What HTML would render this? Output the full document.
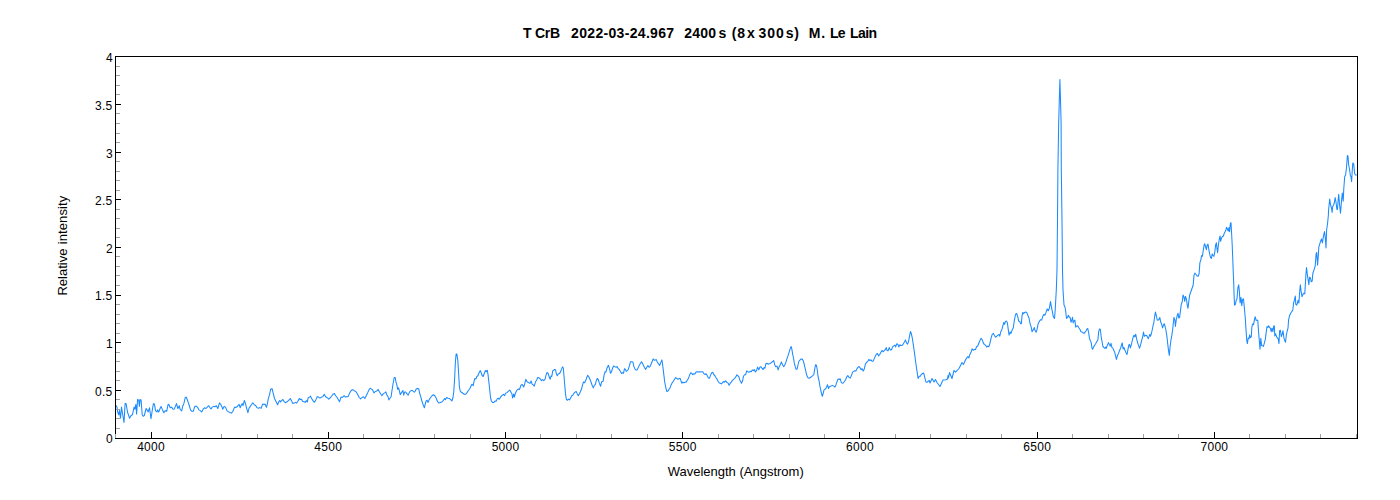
<!DOCTYPE html>
<html><head><meta charset="utf-8"><title>T CrB spectrum</title>
<style>
html,body{margin:0;padding:0;background:#fff;}
body{width:1400px;height:500px;overflow:hidden;font-family:"Liberation Sans",sans-serif;}
svg{display:block;}
text{white-space:pre;}
</style></head><body>
<svg width="1400" height="500" viewBox="0 0 1400 500">
<rect x="0" y="0" width="1400" height="500" fill="#fff"/>
<path d="M115.5 438.5H121.0M115.5 390.5H121.0M115.5 342.5H121.0M115.5 295.5H121.0M115.5 247.5H121.0M115.5 199.5H121.0M115.5 152.5H121.0M115.5 104.5H121.0M115.5 56.5H121.0M151.5 438.5V432.0M328.5 438.5V432.0M505.5 438.5V432.0M682.5 438.5V432.0M859.5 438.5V432.0M1037.5 438.5V432.0M1214.5 438.5V432.0" stroke="#000" stroke-width="1" fill="none" shape-rendering="crispEdges"/>
<polyline points="115.6,405.0 117.0,407.1 117.7,412.0 118.7,414.8 119.5,410.6 120.5,418.3 121.5,407.1 122.3,412.0 124.0,422.5 125.1,403.6 126.1,403.6 127.5,412.0 129.6,418.3 131.0,415.5 132.4,414.8 134.1,407.1 134.9,409.2 135.9,404.3 136.6,414.1 137.6,399.4 138.7,400.1 139.4,406.4 140.1,399.4 141.1,400.1 142.2,414.8 143.2,416.2 144.3,415.5 146.1,408.5 147.5,410.6 148.1,412.0 149.5,407.8 151.0,418.7 152.0,412.0 153.4,403.6 154.5,404.3 155.5,410.6 156.9,412.0 157.6,409.9 158.7,412.0 160.1,408.5 161.1,406.4 162.5,409.9 163.9,412.7 165.3,410.6 166.7,411.3 168.1,404.3 169.1,404.7 170.2,407.8 171.6,407.1 173.0,409.2 174.4,408.9 176.5,403.6 177.9,408.5 179.3,405.7 180.0,409.2 181.7,411.0 182.8,405.7 183.5,405.0 185.3,397.3 186.3,397.3 187.7,400.8 189.1,405.0 190.5,409.9 191.9,411.3 193.3,411.3 194.7,406.4 196.1,406.1 197.5,407.1 198.9,409.9 200.3,410.6 201.7,412.0 203.1,409.2 204.5,407.8 205.9,408.5 207.3,407.1 208.7,405.7 210.1,407.8 211.1,408.9 212.2,407.1 213.6,406.4 215.0,406.7 216.4,405.7 217.8,408.5 219.5,402.9 220.6,404.3 222.0,407.1 222.7,409.2 224.1,406.4 225.5,407.1 226.9,410.6 228.3,411.7 229.7,412.4 231.5,413.1 232.9,411.3 234.6,407.1 236.0,407.5 237.4,406.4 239.1,404.3 240.2,407.8 241.3,405.0 242.3,403.6 243.0,405.7 244.4,400.5 245.5,403.6 246.5,407.8 247.9,412.7 248.9,408.5 250.0,406.9 251.4,404.8 252.8,402.7 254.2,404.8 255.6,405.5 257.0,407.6 258.4,408.3 259.8,407.6 261.2,408.3 262.6,404.1 264.0,404.5 265.1,404.1 266.5,407.3 267.5,403.4 268.2,399.2 269.6,394.3 270.7,389.1 272.1,388.7 273.1,392.9 274.5,398.5 275.9,401.3 277.6,404.8 278.7,402.0 279.7,400.6 280.5,402.0 281.5,400.6 282.9,399.5 284.3,401.7 285.3,402.7 286.7,402.0 288.5,400.6 290.3,398.5 291.6,400.9 292.7,403.4 294.1,403.1 295.5,402.4 296.5,403.1 297.9,401.3 299.3,398.5 300.4,399.5 301.5,399.2 302.5,401.3 303.9,401.7 305.3,402.4 306.3,400.6 307.4,402.0 308.1,397.8 309.5,397.1 310.5,396.1 311.6,398.5 313.0,400.6 314.4,402.3 315.8,399.9 317.2,396.7 318.6,397.1 320.0,398.1 321.4,397.1 322.8,396.7 324.2,394.3 325.6,396.7 327.0,397.5 328.7,399.2 330.5,397.5 331.9,395.7 333.3,393.9 334.4,393.6 335.7,395.7 337.1,397.5 338.5,399.9 339.6,401.7 341.0,397.1 342.4,397.5 344.1,395.7 345.5,397.1 346.6,396.7 348.0,396.7 349.4,393.6 350.8,391.1 352.2,389.7 353.6,390.1 355.0,391.1 356.4,392.2 357.8,394.7 359.2,397.5 360.6,398.9 362.0,397.5 363.4,396.7 364.8,398.5 366.2,395.7 367.6,392.9 369.0,389.7 370.1,388.3 371.5,389.1 372.5,389.7 373.9,392.9 375.3,391.5 376.7,391.1 378.1,389.4 379.5,391.9 380.9,394.3 381.9,395.7 383.3,393.6 384.7,392.9 385.8,391.9 386.9,395.0 387.9,396.4 388.9,399.9 390.0,398.2 391.1,396.8 392.1,389.8 393.1,383.5 394.2,377.5 395.2,377.5 395.9,381.7 397.0,385.6 397.7,389.5 398.4,387.7 399.1,389.5 400.2,394.7 401.5,392.6 402.9,390.5 403.7,395.1 404.7,391.9 405.7,391.9 406.8,393.7 408.2,395.1 409.6,391.9 411.0,390.5 412.4,390.5 413.8,391.9 414.9,391.9 415.9,389.5 417.3,388.4 418.7,388.7 419.7,393.3 420.8,396.8 421.9,401.0 423.3,405.2 424.4,407.7 425.3,403.8 426.1,401.0 427.1,400.3 428.1,402.4 429.2,399.6 430.6,397.5 432.0,395.7 433.4,394.7 434.8,395.7 436.2,398.2 437.6,401.7 439.0,403.1 440.4,402.4 442.1,401.7 443.5,400.3 444.6,398.5 445.4,399.6 446.7,397.5 448.1,398.2 449.5,398.5 450.9,399.9 451.9,401.0 453.0,397.5 453.8,391.2 454.7,377.2 455.4,361.8 456.1,354.1 456.9,354.1 457.8,360.4 458.6,373.0 459.4,387.0 460.3,391.2 461.4,392.3 462.8,393.3 464.2,394.3 465.6,394.3 467.0,392.6 468.4,390.5 469.8,388.7 470.9,386.3 471.9,384.2 473.2,385.6 474.0,381.7 474.8,378.6 476.0,378.9 476.8,376.5 477.9,375.8 479.0,373.0 480.3,370.6 481.3,373.0 482.1,375.5 483.2,376.5 484.4,373.0 485.5,370.5 486.3,371.6 487.2,370.2 488.0,374.4 488.8,381.4 489.7,389.8 490.5,397.5 491.4,401.0 492.5,402.4 493.9,402.4 495.0,401.0 496.1,401.3 497.2,398.9 498.1,398.2 499.2,399.3 500.6,397.1 502.0,395.4 503.4,394.3 504.5,395.7 505.6,393.3 507.0,392.6 508.4,391.2 509.8,390.1 511.0,392.3 511.8,393.3 512.6,397.9 513.8,394.0 514.3,397.1 515.4,393.3 516.7,390.5 518.1,389.1 519.5,389.5 520.9,385.3 522.3,384.5 523.7,387.0 524.7,383.9 525.8,379.3 526.9,381.4 528.3,382.5 530.0,383.4 531.1,380.9 532.1,384.1 533.1,384.8 534.2,386.2 535.6,381.7 536.7,379.9 537.7,377.5 539.1,377.8 540.5,379.2 541.5,380.6 542.6,379.5 543.7,380.6 545.1,379.2 546.1,375.0 547.1,372.5 548.2,373.3 549.2,377.1 550.2,379.2 551.0,376.1 551.8,376.4 552.7,370.8 553.5,370.5 554.5,369.4 555.5,369.7 556.3,373.6 557.3,375.7 558.3,373.9 559.4,373.6 560.5,371.9 561.5,369.1 562.5,366.9 563.3,368.0 563.9,375.0 564.7,384.8 565.6,394.6 566.4,399.5 567.5,400.2 568.5,399.1 569.5,399.9 570.6,398.1 571.7,395.7 572.8,395.3 574.0,393.2 575.1,392.1 576.2,391.5 577.3,393.9 578.3,395.7 579.3,393.9 580.4,391.8 581.5,389.0 582.5,385.1 583.5,382.0 584.6,382.7 585.7,380.6 586.7,377.8 587.7,375.3 588.8,376.7 589.9,379.2 591.0,382.0 592.2,385.5 593.3,387.9 594.4,385.1 595.2,384.8 596.1,381.3 597.2,378.5 598.3,379.5 599.4,383.4 600.6,386.2 601.7,381.7 603.1,381.3 604.2,374.3 605.0,371.9 605.9,372.2 607.0,368.0 608.4,365.2 609.5,368.7 610.5,373.3 611.5,371.9 612.6,368.0 613.7,365.9 614.8,366.6 616.0,367.3 617.1,366.6 618.2,368.7 619.3,369.4 620.4,371.5 621.6,373.6 622.7,372.5 623.5,373.3 624.5,368.7 625.5,369.4 626.3,371.5 627.3,370.5 628.3,369.4 629.4,365.9 630.5,361.7 631.6,361.7 632.9,362.1 633.9,366.6 635.0,369.1 636.1,370.1 637.2,369.7 638.4,367.3 639.5,364.9 640.6,363.1 641.6,361.7 642.7,363.8 643.7,365.9 644.8,368.0 645.6,369.4 646.8,367.3 647.9,365.5 649.0,367.3 650.1,366.3 651.2,363.8 652.4,361.0 653.2,358.9 654.3,360.3 655.3,359.9 656.3,359.6 657.4,362.4 658.5,363.8 659.6,365.5 660.8,362.4 661.9,359.9 662.7,365.2 663.7,373.6 664.7,382.0 665.8,387.6 666.9,391.5 668.0,391.1 669.2,389.0 670.0,388.1 671.1,384.9 672.1,382.9 673.1,381.5 674.2,379.7 675.6,377.6 676.7,378.3 677.8,379.3 679.0,378.7 680.1,378.3 680.9,380.7 681.9,383.2 682.9,382.1 684.0,382.9 685.1,382.1 686.2,382.1 687.4,380.1 688.5,378.3 689.6,375.1 690.7,372.7 691.8,373.4 692.7,374.8 693.8,373.7 694.9,374.1 696.0,372.0 697.2,371.7 698.3,372.0 699.4,371.7 700.5,372.0 701.6,371.7 702.8,371.7 703.9,373.7 705.0,374.5 706.1,373.7 707.2,375.5 708.4,377.9 709.5,378.3 710.6,375.1 711.7,372.7 712.7,372.3 713.7,374.5 714.8,375.5 715.9,377.6 717.0,379.0 718.2,381.5 719.3,382.9 720.4,383.2 721.5,383.9 722.6,382.5 723.8,381.5 724.6,382.1 725.7,380.7 726.8,382.5 728.0,382.9 729.1,385.3 730.2,383.2 731.3,382.1 732.4,380.4 733.6,379.3 734.7,378.3 735.8,376.9 736.9,374.8 738.0,375.9 738.9,376.9 739.7,379.7 740.7,381.8 741.5,383.2 742.5,381.1 743.5,376.2 744.5,374.8 745.6,374.8 746.7,370.9 747.8,371.7 749.0,372.3 750.1,371.3 751.2,371.7 752.3,369.9 753.4,370.6 754.3,369.5 755.4,372.0 756.5,370.6 757.6,367.1 758.8,369.9 759.9,367.1 761.0,366.7 762.1,368.5 763.2,369.5 764.1,367.5 764.9,368.1 766.0,363.6 767.2,363.3 768.3,364.3 769.4,363.6 770.5,363.3 771.6,362.2 772.8,361.5 773.7,360.5 774.7,364.7 775.8,366.7 777.0,366.1 778.1,369.9 779.2,366.7 780.3,364.7 781.4,361.9 782.6,364.7 783.7,366.7 784.8,365.0 785.9,362.2 787.0,358.7 788.2,355.2 789.3,351.7 790.1,348.9 791.1,346.5 791.8,348.9 792.6,353.8 793.5,358.0 794.3,362.9 795.2,366.7 796.0,369.2 797.1,369.2 798.0,365.0 798.8,361.5 799.9,360.1 801.0,359.1 802.2,359.1 803.3,360.8 804.4,365.0 805.5,369.9 806.6,374.8 807.8,377.6 808.9,378.3 810.0,377.7 811.4,376.7 812.8,375.6 813.9,374.2 814.8,368.6 815.6,364.7 816.4,365.1 817.3,370.0 818.1,377.0 819.0,380.5 819.8,385.4 820.9,391.0 822.3,396.3 823.3,393.1 824.0,389.9 825.1,389.3 826.2,387.9 827.5,384.7 828.5,388.5 829.6,386.5 831.0,386.1 832.4,385.4 833.8,386.1 834.9,387.1 836.0,384.7 837.2,381.2 838.0,379.1 839.1,379.5 840.1,378.7 841.1,381.9 842.2,383.3 843.3,383.0 844.4,381.5 845.6,379.8 846.7,377.0 847.8,375.6 848.9,377.3 850.3,378.1 851.4,375.6 852.6,372.1 853.7,371.4 854.8,370.7 855.9,371.1 857.0,368.6 858.2,367.2 859.0,366.5 860.1,367.9 861.2,369.7 862.1,368.6 863.2,371.1 864.3,368.9 865.4,364.1 866.6,362.3 867.7,361.6 868.8,359.5 869.9,360.5 871.0,359.9 872.2,361.3 873.3,360.9 874.4,358.1 875.5,355.7 876.6,353.9 877.5,353.5 878.6,356.0 879.7,354.6 880.8,352.5 882.0,350.4 883.1,351.8 884.2,350.7 885.3,349.7 886.2,347.6 887.0,350.4 888.1,350.7 889.2,347.6 890.4,350.1 891.5,349.7 892.6,346.9 893.7,345.9 894.8,345.1 895.7,346.9 896.8,343.7 897.9,344.5 898.8,346.9 899.9,344.8 901.0,345.5 902.1,345.5 903.2,344.1 904.4,342.0 905.5,339.9 906.6,343.1 907.6,344.1 908.6,341.3 909.4,336.7 910.5,331.5 911.5,334.3 912.5,339.2 913.6,346.9 914.7,354.6 915.8,363.0 917.0,371.4 918.1,378.4 919.2,376.3 920.3,376.3 921.4,374.2 922.6,373.5 923.7,373.1 924.8,377.7 925.9,381.9 927.0,382.3 928.2,381.2 929.3,380.5 930.0,383.0 932.0,378.5 934.0,382.0 935.5,379.5 937.0,382.5 940.0,386.5 943.0,380.0 946.0,379.8 947.5,379.0 948.0,375.5 948.5,378.0 949.5,372.5 952.0,378.5 954.0,370.5 955.5,372.2 959.0,368.5 962.0,362.5 963.5,364.5 965.4,360.0 966.8,357.9 967.9,356.5 968.9,357.9 969.9,354.4 971.0,352.3 972.1,348.8 973.2,350.2 974.4,349.5 975.5,349.5 976.6,346.7 977.7,346.0 978.8,343.2 980.0,340.4 981.1,338.3 982.2,339.7 983.3,342.9 984.4,344.6 985.6,345.3 986.7,347.1 987.8,346.0 988.9,346.7 990.0,343.2 991.2,337.6 992.3,334.1 993.4,333.4 994.5,335.5 995.6,337.3 996.8,336.2 997.9,335.1 999.0,334.5 999.8,336.2 1000.7,332.0 1001.8,329.9 1002.9,325.7 1003.8,322.5 1004.6,324.3 1005.4,321.5 1006.6,321.1 1007.4,322.9 1008.2,329.2 1009.1,335.1 1010.2,332.0 1011.0,333.4 1012.2,329.9 1013.3,327.8 1014.4,320.1 1015.5,314.5 1016.6,313.5 1017.8,316.6 1018.6,321.1 1019.7,321.5 1020.6,323.6 1021.4,323.6 1022.0,315.9 1022.8,312.4 1023.6,313.8 1024.5,312.4 1025.6,312.1 1026.7,312.4 1027.8,315.2 1029.0,318.0 1030.1,323.6 1031.2,327.1 1032.0,331.7 1033.2,329.9 1034.3,327.5 1035.1,330.6 1036.1,332.3 1037.1,329.2 1038.2,323.6 1039.3,321.5 1040.4,319.7 1041.6,320.1 1042.7,316.6 1043.8,314.5 1044.9,315.2 1046.0,312.4 1047.2,308.9 1048.3,310.7 1049.4,308.2 1050.5,301.5 1051.4,306.8 1052.5,312.4 1053.3,316.6 1054.5,318.5 1055.2,310.0 1056.3,290.0 1057.0,270.0 1057.5,220.0 1057.9,170.0 1058.7,122.0 1059.4,97.0 1059.9,79.5 1060.5,100.0 1061.1,122.0 1061.3,170.0 1062.0,220.0 1062.5,270.0 1063.0,290.0 1064.0,305.0 1065.0,307.0 1065.8,312.0 1066.5,318.5 1067.6,317.3 1068.4,315.2 1069.3,317.3 1070.1,317.3 1071.0,322.2 1071.8,320.1 1072.5,317.3 1073.2,322.9 1074.0,320.8 1074.9,320.1 1075.7,327.1 1076.7,326.1 1077.7,325.7 1078.8,327.8 1079.9,329.2 1081.0,331.7 1082.2,332.0 1083.3,333.1 1084.4,333.1 1086.1,330.7 1087.0,328.9 1087.8,328.6 1088.6,332.5 1089.5,338.4 1090.3,340.5 1091.2,342.6 1092.0,348.2 1092.6,349.3 1093.7,346.8 1094.8,345.1 1095.9,343.3 1097.0,341.2 1097.9,339.8 1098.7,331.4 1099.6,328.9 1100.4,329.7 1101.2,337.0 1102.1,341.9 1102.9,346.5 1104.0,347.5 1104.9,348.5 1105.7,347.1 1106.3,348.2 1107.4,345.1 1108.5,342.6 1109.4,344.7 1110.2,346.1 1111.0,343.3 1111.9,347.5 1112.7,347.9 1113.8,350.3 1114.7,352.4 1115.5,355.5 1116.4,359.4 1117.5,355.5 1118.6,353.1 1119.7,350.3 1120.8,347.5 1121.7,344.3 1122.2,342.9 1123.1,348.9 1123.9,347.5 1125.0,350.3 1125.9,352.4 1127.0,354.5 1127.8,350.3 1128.7,345.4 1129.5,344.3 1130.4,347.9 1131.2,345.1 1132.3,340.5 1133.2,337.0 1134.0,335.3 1134.8,336.7 1135.7,334.2 1136.5,338.4 1137.6,342.6 1138.8,346.1 1139.6,348.2 1140.7,344.3 1141.8,339.8 1142.7,337.0 1143.5,332.1 1144.4,336.3 1145.5,335.3 1146.6,335.6 1147.4,337.0 1148.3,338.7 1149.1,336.3 1149.7,334.5 1150.5,336.3 1151.4,333.5 1152.2,330.0 1153.0,325.8 1153.9,322.3 1154.7,316.0 1155.4,312.1 1156.4,316.0 1157.2,319.9 1158.1,320.2 1158.9,319.5 1159.8,317.4 1160.6,321.6 1161.4,323.7 1162.6,327.9 1163.4,325.1 1164.2,323.7 1165.1,326.5 1165.9,330.0 1166.8,335.6 1167.6,342.6 1168.4,349.6 1169.3,355.5 1170.1,346.8 1171.0,339.8 1171.8,335.6 1172.6,330.0 1173.5,321.6 1174.0,317.4 1174.9,320.2 1175.4,326.5 1176.3,319.5 1177.1,316.0 1178.0,313.2 1178.8,318.1 1179.6,317.4 1180.5,310.4 1181.3,304.1 1182.2,302.0 1183.0,295.0 1183.8,296.4 1184.7,301.3 1185.5,296.4 1186.4,299.2 1187.2,304.8 1188.0,308.3 1188.9,300.6 1189.7,295.0 1193.2,285.0 1194.0,275.2 1194.9,273.1 1196.0,274.5 1197.1,275.9 1198.2,276.3 1199.1,273.8 1199.9,262.6 1200.8,260.1 1201.6,255.6 1202.4,256.3 1203.3,250.0 1204.1,245.1 1204.7,243.7 1205.5,246.5 1206.4,249.7 1207.2,245.1 1208.0,244.1 1208.9,250.0 1209.7,254.2 1210.6,257.7 1211.4,258.4 1212.2,253.9 1213.1,255.6 1213.9,256.3 1214.8,252.1 1215.6,245.1 1216.4,242.7 1217.0,248.6 1217.6,252.8 1218.4,245.1 1219.2,239.5 1220.1,236.0 1220.6,241.3 1221.5,238.1 1222.3,236.7 1223.4,236.0 1224.3,233.2 1225.1,231.8 1226.0,229.7 1226.5,227.3 1227.4,229.0 1228.2,231.1 1229.0,227.6 1229.6,231.8 1230.4,223.4 1231.0,222.7 1231.6,233.2 1232.1,243.0 1232.7,257.0 1233.2,271.0 1233.8,285.0 1234.0,293.2 1234.5,305.1 1235.4,304.4 1236.2,300.2 1237.0,298.8 1237.9,287.6 1238.7,284.8 1239.3,290.4 1240.1,303.0 1241.0,297.4 1241.8,305.8 1242.6,299.5 1243.5,298.8 1244.3,307.2 1245.2,317.0 1246.0,329.6 1246.8,340.8 1247.4,343.6 1248.2,338.0 1249.1,338.7 1249.6,334.9 1250.5,337.7 1251.3,336.6 1251.9,326.8 1252.7,324.0 1253.6,324.7 1254.4,319.8 1255.2,316.7 1256.1,320.5 1256.9,320.1 1257.8,320.5 1258.3,328.2 1259.2,339.4 1260.0,349.2 1260.8,338.3 1261.7,345.7 1262.5,345.7 1263.4,346.4 1264.2,343.6 1265.3,339.4 1266.2,332.4 1267.0,326.5 1267.8,327.5 1268.7,325.7 1269.5,327.5 1270.4,328.2 1271.2,331.7 1272.0,328.2 1272.9,331.7 1273.7,326.1 1274.3,325.7 1274.8,335.9 1275.7,333.8 1276.5,336.6 1277.4,338.0 1278.2,338.7 1279.0,343.6 1279.6,330.7 1280.4,330.3 1281.3,336.6 1282.1,334.5 1283.0,330.7 1283.8,337.3 1284.6,340.1 1285.5,342.2 1286.3,335.2 1287.2,331.0 1288.0,328.2 1288.6,319.8 1289.4,316.3 1290.2,314.2 1291.1,312.5 1291.9,311.4 1292.8,310.0 1293.6,303.0 1294.4,300.2 1295.3,296.0 1295.8,304.4 1296.7,305.1 1297.5,303.0 1298.1,300.2 1298.9,303.0 1299.8,290.4 1300.3,284.8 1301.2,291.8 1302.0,296.7 1302.8,294.6 1303.7,293.2 1304.8,293.9 1305.0,290.0 1305.9,275.0 1306.5,267.5 1307.4,275.0 1308.3,281.0 1308.9,284.8 1309.5,277.2 1310.4,278.0 1311.3,281.8 1312.2,281.0 1312.8,273.5 1314.0,269.8 1315.2,266.0 1316.1,254.0 1316.7,252.5 1317.6,265.2 1318.2,257.0 1318.8,247.2 1319.7,244.2 1320.6,241.2 1321.5,239.0 1322.4,242.8 1323.3,236.8 1324.5,231.5 1325.4,239.0 1326.0,248.0 1326.6,230.0 1327.5,224.0 1328.4,215.0 1328.5,211.0 1329.1,205.0 1329.7,199.0 1330.6,205.0 1331.5,208.0 1332.1,212.5 1332.7,206.5 1333.6,205.0 1334.5,202.0 1335.1,197.5 1336.0,202.0 1336.9,209.5 1337.5,209.5 1338.1,200.5 1338.7,194.2 1339.6,205.0 1340.5,213.2 1341.4,202.0 1342.3,193.0 1343.2,201.2 1343.8,188.5 1344.7,176.5 1345.6,175.0 1346.5,167.5 1347.4,155.5 1348.0,156.2 1348.6,164.5 1349.5,169.0 1350.4,175.8 1351.0,176.5 1351.6,181.8 1352.2,171.2 1352.8,163.0 1353.7,163.8 1354.6,173.5 1355.5,175.0 1356.4,175.0" fill="none" stroke="#1a8aff" stroke-width="1.05" stroke-linejoin="round" stroke-linecap="round"/>
<rect x="115.5" y="56.5" width="1242.0" height="382.0" fill="none" stroke="#000" stroke-width="1" shape-rendering="crispEdges"/>
<path d="M116.0 428.5H120.0M116.0 418.5H120.0M116.0 409.5H120.0M116.0 399.5H120.0M116.0 380.5H120.0M116.0 371.5H120.0M116.0 361.5H120.0M116.0 352.5H120.0M116.0 333.5H120.0M116.0 323.5H120.0M116.0 314.5H120.0M116.0 304.5H120.0M116.0 285.5H120.0M116.0 275.5H120.0M116.0 266.5H120.0M116.0 256.5H120.0M116.0 237.5H120.0M116.0 228.5H120.0M116.0 218.5H120.0M116.0 209.5H120.0M116.0 190.5H120.0M116.0 180.5H120.0M116.0 171.5H120.0M116.0 161.5H120.0M116.0 142.5H120.0M116.0 133.5H120.0M116.0 123.5H120.0M116.0 113.5H120.0M116.0 94.5H120.0M116.0 85.5H120.0M116.0 75.5H120.0M116.0 66.5H120.0M115.5 438.0V434.0M186.5 438.0V434.0M221.5 438.0V434.0M257.5 438.0V434.0M292.5 438.0V434.0M363.5 438.0V434.0M399.5 438.0V434.0M434.5 438.0V434.0M470.5 438.0V434.0M540.5 438.0V434.0M576.5 438.0V434.0M611.5 438.0V434.0M647.5 438.0V434.0M718.5 438.0V434.0M753.5 438.0V434.0M789.5 438.0V434.0M824.5 438.0V434.0M895.5 438.0V434.0M930.5 438.0V434.0M966.5 438.0V434.0M1001.5 438.0V434.0M1072.5 438.0V434.0M1108.5 438.0V434.0M1143.5 438.0V434.0M1178.5 438.0V434.0M1249.5 438.0V434.0M1285.5 438.0V434.0M1320.5 438.0V434.0M1356.5 438.0V434.0" stroke="#a0a0a0" stroke-width="1" fill="none" shape-rendering="crispEdges"/>
<g font-family="Liberation Sans, sans-serif" font-size="12px" letter-spacing="0.3" fill="#000"><text x="112.9" y="443.4" text-anchor="end">0</text><text x="112.5" y="395.8" text-anchor="end">0.5</text><text x="112.9" y="348.1" text-anchor="end">1</text><text x="112.5" y="300.4" text-anchor="end">1.5</text><text x="112.9" y="252.8" text-anchor="end">2</text><text x="112.5" y="205.1" text-anchor="end">2.5</text><text x="112.9" y="157.5" text-anchor="end">3</text><text x="112.5" y="109.8" text-anchor="end">3.5</text><text x="112.9" y="62.2" text-anchor="end">4</text><text x="151.1" y="451" text-anchor="middle">4000</text><text x="328.3" y="451" text-anchor="middle">4500</text><text x="505.6" y="451" text-anchor="middle">5000</text><text x="682.8" y="451" text-anchor="middle">5500</text><text x="860.0" y="451" text-anchor="middle">6000</text><text x="1037.2" y="451" text-anchor="middle">6500</text><text x="1214.4" y="451" text-anchor="middle">7000</text><text x="735.7" y="475.7" text-anchor="middle" font-size="13px" letter-spacing="0">Wavelength (Angstrom)</text><text transform="translate(67.2,295.6) rotate(-90)" text-anchor="start" font-size="13px" letter-spacing="0">Relative</text><text transform="translate(67.2,244.3) rotate(-90)" text-anchor="start" font-size="13px" letter-spacing="0.1">intensity</text></g>
<g font-family="Liberation Sans, sans-serif" font-size="14px" font-weight="bold" fill="#000"><text x="523.1" y="38" letter-spacing="0.00">T</text><text x="535.1" y="38" letter-spacing="-0.35">CrB</text><text x="571.1" y="38" letter-spacing="0.32">2022-03-24.967</text><text x="684.2" y="38" letter-spacing="0.20">2400</text><text x="718.5" y="38" letter-spacing="0.00">s</text><text x="731.7" y="38" letter-spacing="0.90">(8</text><text x="747.1" y="38" letter-spacing="0.00">x</text><text x="758.6" y="38" letter-spacing="0.90">300</text><text x="785.7" y="38" letter-spacing="0.90">s)</text><text x="808.8" y="38" letter-spacing="0.90">M.</text><text x="829.9" y="38" letter-spacing="-0.70">Le</text><text x="850.1" y="38" letter-spacing="-0.57">Lain</text></g>
</svg>
</body></html>
